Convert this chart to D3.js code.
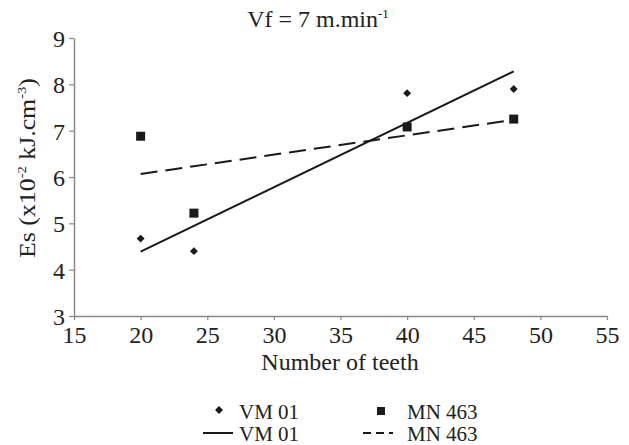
<!DOCTYPE html>
<html>
<head>
<meta charset="utf-8">
<script src="https://cdn.jsdelivr.net/npm/d3@7"></script>
<style>
body { margin: 0; background: #fff; }
svg text { font-family: "Liberation Serif", "Times New Roman", serif; fill: #222; }
</style>
</head>
<body>
<svg id="chart" width="629" height="445"></svg>
<script>
// teeth counts, and specific energy for the two blades
var teeth = [20, 24, 40, 48];
var vm01 = [4.67, 4.40, 7.81, 7.90];
var mn463 = [6.88, 5.22, 7.08, 7.25];
var xTicks = [15, 20, 25, 30, 35, 40, 45, 50, 55];
var yTicks = [3, 4, 5, 6, 7, 8, 9];

var svg = d3.select('#chart');
var x = d3.scaleLinear().domain([15, 55]).range([74, 607]);
var y = d3.scaleLinear().domain([3, 9]).range([316, 38]);

// least squares line through the points
function fit(xs, ys) {
    var mx = d3.mean(xs), my = d3.mean(ys);
    var sxy = 0, sxx = 0;
    xs.forEach(function(v, i) {
        sxy += (v - mx) * (ys[i] - my);
        sxx += (v - mx) * (v - mx);
    });
    var b = sxy / sxx;
    var x0 = d3.min(xs), x1 = d3.max(xs);
    return [[x0, my + b * (x0 - mx)], [x1, my + b * (x1 - mx)]];
}

var xAxis = svg.append('g')
    .attr('transform', 'translate(0,' + y(3) + ')')
    .call(d3.axisBottom(x).tickValues(xTicks).tickFormat(d3.format('d')).tickSize(4).tickSizeOuter(0));
var yAxis = svg.append('g')
    .attr('transform', 'translate(' + x(15) + ',0)')
    .call(d3.axisLeft(y).tickValues(yTicks).tickFormat(d3.format('d')).tickSize(5).tickSizeOuter(0));

[xAxis, yAxis].forEach(function(a) {
    a.attr('font-family', null);
    a.select('.domain').attr('stroke', '#888').attr('stroke-width', 1.5);
    a.selectAll('.tick line').attr('stroke', '#888').attr('stroke-width', 1.2);
    a.selectAll('.tick text')
        .style('font-family', '"Liberation Serif", serif')
        .style('font-size', '24px')
        .attr('fill', '#222');
});
xAxis.selectAll('.tick text').attr('y', 27).attr('dy', 0);
yAxis.selectAll('.tick text').attr('x', -9).attr('dy', '0.35em');

// trend lines
var line = d3.line().x(function(d) { return x(d[0]); }).y(function(d) { return y(d[1]); });
svg.append('path')
    .attr('d', line(fit(teeth, vm01)))
    .attr('stroke', '#1a1a1a').attr('stroke-width', 2).attr('fill', 'none');
svg.append('path')
    .attr('d', line(fit(teeth, mn463)))
    .attr('stroke', '#1a1a1a').attr('stroke-width', 2).attr('fill', 'none')
    .attr('stroke-dasharray', '17,8');

// markers
var diamond = d3.symbol().type(d3.symbolDiamond2).size(40);
svg.append('g').selectAll('path')
    .data(teeth)
    .enter().append('path')
    .attr('d', diamond)
    .attr('transform', function(d, i) { return 'translate(' + x(d) + ',' + y(vm01[i]) + ')'; })
    .attr('fill', '#1a1a1a');

svg.append('g').selectAll('rect')
    .data(teeth)
    .enter().append('rect')
    .attr('x', function(d) { return x(d) - 4.5; })
    .attr('y', function(d, i) { return y(mn463[i]) - 4.5; })
    .attr('width', 9).attr('height', 9)
    .attr('fill', '#1a1a1a');

// title
var title = svg.append('text')
    .attr('x', 318).attr('y', 27)
    .attr('text-anchor', 'middle')
    .style('font-size', '24px');
title.append('tspan').text('Vf = 7 m.min');
title.append('tspan').attr('dy', -9).style('font-size', '13px').text('-1');

// axis titles
svg.append('text')
    .attr('x', 340).attr('y', 370)
    .attr('text-anchor', 'middle')
    .style('font-size', '24px')
    .text('Number of teeth');

var yl = svg.append('text')
    .attr('transform', 'translate(35,168) rotate(-90)')
    .attr('text-anchor', 'middle')
    .attr('textLength', 180)
    .attr('lengthAdjust', 'spacingAndGlyphs')
    .style('font-size', '23px');
yl.append('tspan').text('Es (x10');
yl.append('tspan').attr('dy', -9).style('font-size', '13px').text('-2');
yl.append('tspan').attr('dy', 9).text(' kJ.cm');
yl.append('tspan').attr('dy', -9).style('font-size', '13px').text('-3');
yl.append('tspan').attr('dy', 9).text(')');

// legend
var legend = svg.append('g').style('font-size', '21px');
legend.append('path').attr('d', diamond).attr('transform', 'translate(219,410)').attr('fill', '#1a1a1a');
legend.append('text').attr('x', 239).attr('y', 419).text('VM 01');
legend.append('rect').attr('x', 377).attr('y', 407).attr('width', 8).attr('height', 8).attr('fill', '#1a1a1a');
legend.append('text').attr('x', 407).attr('y', 419).text('MN 463');
legend.append('line').attr('x1', 203).attr('x2', 233).attr('y1', 433).attr('y2', 433)
    .attr('stroke', '#1a1a1a').attr('stroke-width', 2);
legend.append('text').attr('x', 239).attr('y', 441).text('VM 01');
legend.append('line').attr('x1', 363).attr('x2', 393).attr('y1', 433).attr('y2', 433)
    .attr('stroke', '#1a1a1a').attr('stroke-width', 2).attr('stroke-dasharray', '8,5');
legend.append('text').attr('x', 407).attr('y', 441).text('MN 463');
</script>
</body>
</html>
